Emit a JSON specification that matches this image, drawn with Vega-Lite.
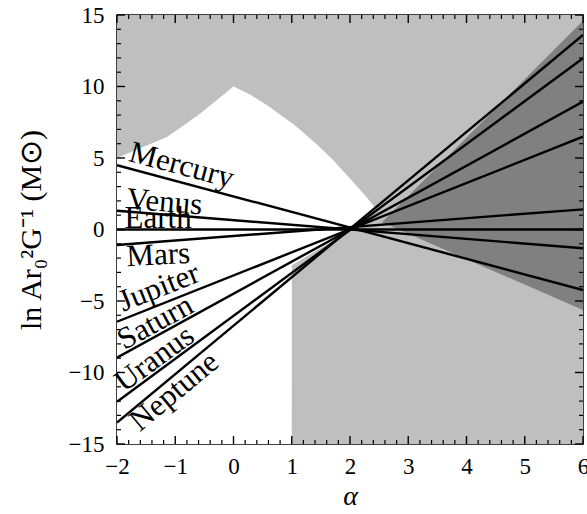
{
  "$schema": "https://vega.github.io/schema/vega-lite/v6.json",
  "width": 466,
  "height": 429,
  "autosize": "none",
  "padding": {"left": 117, "top": 15, "right": 4, "bottom": 70},
  "background": "white",
  "config": {
    "view": {"stroke": "black", "strokeWidth": 1.5},
    "axis": {"grid": false, "domain": false, "ticks": false, "labelColor": "black", "labelFont": "Liberation Serif", "labelFontSize": 23, "titleColor": "black", "titleFont": "Liberation Serif", "titleFontWeight": "normal", "labelFlush": false, "labelOverlap": false}
  },
  "datasets": {
    "bg": [{"x": -2, "lo": -15, "hi": 15}, {"x": 6, "lo": -15, "hi": 15}],
    "white": [
      {"x": -2, "lo": -15, "hi": 5},
      {"x": -1.5, "lo": -15, "hi": 5.85},
      {"x": -1.14, "lo": -15, "hi": 6.47},
      {"x": -0.8, "lo": -15, "hi": 7.45},
      {"x": -0.57, "lo": -15, "hi": 8.12},
      {"x": -0.3, "lo": -15, "hi": 9.0},
      {"x": 0, "lo": -15, "hi": 10},
      {"x": 0.3, "lo": -15, "hi": 9.4},
      {"x": 0.57, "lo": -15, "hi": 8.7},
      {"x": 1, "lo": -15, "hi": 7.45},
      {"x": 1.002, "lo": -2.5, "hi": 7.44},
      {"x": 1.14, "lo": -2.16, "hi": 7.0},
      {"x": 1.45, "lo": -1.4, "hi": 5.88},
      {"x": 1.71, "lo": -0.78, "hi": 4.86},
      {"x": 2.03, "lo": 0, "hi": 3.42},
      {"x": 2.28, "lo": 0.85, "hi": 2.29},
      {"x": 2.45, "lo": 1.42, "hi": 1.42}
    ],
    "dark": [
      {"x": 2.55, "lo": 0.5, "hi": 0.5},
      {"x": 6, "lo": -5.63, "hi": 14.6}
    ],
    "lines": [
      {"planet": "Mercury", "x": -2, "y": 4.5}, {"planet": "Mercury", "x": 6, "y": -4.23},
      {"planet": "Venus", "x": -2, "y": 1.31}, {"planet": "Venus", "x": 6, "y": -1.31},
      {"planet": "Earth", "x": -2, "y": 0}, {"planet": "Earth", "x": 6, "y": 0},
      {"planet": "Mars", "x": -2, "y": -1.08}, {"planet": "Mars", "x": 6, "y": 1.41},
      {"planet": "Jupiter", "x": -2, "y": -6.45}, {"planet": "Jupiter", "x": 6, "y": 6.49},
      {"planet": "Saturn", "x": -2, "y": -8.96}, {"planet": "Saturn", "x": 6, "y": 8.94},
      {"planet": "Uranus", "x": -2, "y": -12.04}, {"planet": "Uranus", "x": 6, "y": 11.97},
      {"planet": "Neptune", "x": -2, "y": -13.5}, {"planet": "Neptune", "x": 6, "y": 13.6}
    ],
    "labels": [
      {"planet": "Mercury", "x": -1.85, "y": 4.34},
      {"planet": "Venus", "x": -1.85, "y": 1.26},
      {"planet": "Earth", "x": -1.87, "y": 0},
      {"planet": "Mars", "x": -1.85, "y": -1.03},
      {"planet": "Jupiter", "x": -1.85, "y": -6.21},
      {"planet": "Saturn", "x": -1.85, "y": -8.62},
      {"planet": "Uranus", "x": -1.85, "y": -11.59},
      {"planet": "Neptune", "x": -1.85, "y": -12.99}
    ],
    "xmajor": [{"v": -2}, {"v": -1}, {"v": 0}, {"v": 1}, {"v": 2}, {"v": 3}, {"v": 4}, {"v": 5}, {"v": 6}],
    "xminor": [{"v": -1.8}, {"v": -1.6}, {"v": -1.4}, {"v": -1.2}, {"v": -0.8}, {"v": -0.6}, {"v": -0.4}, {"v": -0.2}, {"v": 0.2}, {"v": 0.4}, {"v": 0.6}, {"v": 0.8}, {"v": 1.2}, {"v": 1.4}, {"v": 1.6}, {"v": 1.8}, {"v": 2.2}, {"v": 2.4}, {"v": 2.6}, {"v": 2.8}, {"v": 3.2}, {"v": 3.4}, {"v": 3.6}, {"v": 3.8}, {"v": 4.2}, {"v": 4.4}, {"v": 4.6}, {"v": 4.8}, {"v": 5.2}, {"v": 5.4}, {"v": 5.6}, {"v": 5.8}],
    "ymajor": [{"v": -15}, {"v": -10}, {"v": -5}, {"v": 0}, {"v": 5}, {"v": 10}, {"v": 15}],
    "yminor": [{"v": -14}, {"v": -13}, {"v": -12}, {"v": -11}, {"v": -9}, {"v": -8}, {"v": -7}, {"v": -6}, {"v": -4}, {"v": -3}, {"v": -2}, {"v": -1}, {"v": 1}, {"v": 2}, {"v": 3}, {"v": 4}, {"v": 6}, {"v": 7}, {"v": 8}, {"v": 9}, {"v": 11}, {"v": 12}, {"v": 13}, {"v": 14}]
  },
  "encoding": {
    "x": {"type": "quantitative", "scale": {"domain": [-2, 6], "nice": false, "zero": false}},
    "y": {"type": "quantitative", "scale": {"domain": [-15, 15], "nice": false, "zero": false}}
  },
  "layer": [
    {
      "data": {"name": "bg"},
      "mark": {"type": "area", "color": "#bfbfbf", "clip": true},
      "encoding": {
        "x": {"field": "x", "type": "quantitative",
          "axis": {"orient": "bottom", "values": [-2, -1, 0, 1, 2, 3, 4, 5, 6], "format": "d", "labelPadding": 11, "title": "α", "titleFontStyle": "italic", "titleFontSize": 28, "titlePadding": 4}},
        "y": {"field": "lo", "type": "quantitative",
          "axis": {"orient": "left", "values": [-15, -10, -5, 0, 5, 10, 15], "format": "d", "labelPadding": 13, "title": "ln Ar₀²G⁻¹ (M⊙)", "titleFontSize": 30, "titlePadding": 22}},
        "y2": {"field": "hi"}
      }
    },
    {
      "data": {"name": "white"},
      "mark": {"type": "area", "color": "white", "clip": true},
      "encoding": {
        "x": {"field": "x", "type": "quantitative"},
        "y": {"field": "lo", "type": "quantitative"},
        "y2": {"field": "hi"}
      }
    },
    {
      "data": {"name": "dark"},
      "mark": {"type": "area", "color": "#808080", "clip": true},
      "encoding": {
        "x": {"field": "x", "type": "quantitative"},
        "y": {"field": "lo", "type": "quantitative"},
        "y2": {"field": "hi"}
      }
    },
    {
      "data": {"name": "labels"},
      "transform": [{"filter": "datum.planet == 'Mercury'"}],
      "mark": {"type": "text", "align": "left", "baseline": "alphabetic", "angle": 15, "dy": -7, "font": "Liberation Serif", "fontSize": 31, "color": "black"},
      "encoding": {"x": {"field": "x", "type": "quantitative"}, "y": {"field": "y", "type": "quantitative"}, "text": {"field": "planet"}}
    },
    {
      "data": {"name": "labels"},
      "transform": [{"filter": "datum.planet == 'Venus'"}],
      "mark": {"type": "text", "align": "left", "baseline": "alphabetic", "angle": 4.6, "dy": -3, "font": "Liberation Serif", "fontSize": 31, "color": "black"},
      "encoding": {"x": {"field": "x", "type": "quantitative"}, "y": {"field": "y", "type": "quantitative"}, "text": {"field": "planet"}}
    },
    {
      "data": {"name": "labels"},
      "transform": [{"filter": "datum.planet == 'Earth'"}],
      "mark": {"type": "text", "align": "left", "baseline": "alphabetic", "angle": 0, "dy": -2, "font": "Liberation Serif", "fontSize": 31, "color": "black"},
      "encoding": {"x": {"field": "x", "type": "quantitative"}, "y": {"field": "y", "type": "quantitative"}, "text": {"field": "planet"}}
    },
    {
      "data": {"name": "labels"},
      "transform": [{"filter": "datum.planet == 'Mars'"}],
      "mark": {"type": "text", "align": "left", "baseline": "top", "angle": -3, "dy": -2, "font": "Liberation Serif", "fontSize": 31, "color": "black"},
      "encoding": {"x": {"field": "x", "type": "quantitative"}, "y": {"field": "y", "type": "quantitative"}, "text": {"field": "planet"}}
    },
    {
      "data": {"name": "labels"},
      "transform": [{"filter": "datum.planet == 'Jupiter'"}],
      "mark": {"type": "text", "align": "left", "baseline": "alphabetic", "angle": -21.6, "dy": -7, "font": "Liberation Serif", "fontSize": 31, "color": "black"},
      "encoding": {"x": {"field": "x", "type": "quantitative"}, "y": {"field": "y", "type": "quantitative"}, "text": {"field": "planet"}}
    },
    {
      "data": {"name": "labels"},
      "transform": [{"filter": "datum.planet == 'Saturn'"}],
      "mark": {"type": "text", "align": "left", "baseline": "alphabetic", "angle": -28.7, "dy": -3, "font": "Liberation Serif", "fontSize": 31, "color": "black"},
      "encoding": {"x": {"field": "x", "type": "quantitative"}, "y": {"field": "y", "type": "quantitative"}, "text": {"field": "planet"}}
    },
    {
      "data": {"name": "labels"},
      "transform": [{"filter": "datum.planet == 'Uranus'"}],
      "mark": {"type": "text", "align": "left", "baseline": "alphabetic", "angle": -36.3, "dy": -3, "font": "Liberation Serif", "fontSize": 31, "color": "black"},
      "encoding": {"x": {"field": "x", "type": "quantitative"}, "y": {"field": "y", "type": "quantitative"}, "text": {"field": "planet"}}
    },
    {
      "data": {"name": "labels"},
      "transform": [{"filter": "datum.planet == 'Neptune'"}],
      "mark": {"type": "text", "align": "left", "baseline": "top", "angle": -39.7, "dy": -2, "font": "Liberation Serif", "fontSize": 31, "color": "black"},
      "encoding": {"x": {"field": "x", "type": "quantitative"}, "y": {"field": "y", "type": "quantitative"}, "text": {"field": "planet"}}
    },
    {
      "data": {"name": "lines"},
      "mark": {"type": "line", "color": "black", "strokeWidth": 2.4, "clip": true},
      "encoding": {
        "x": {"field": "x", "type": "quantitative"},
        "y": {"field": "y", "type": "quantitative"},
        "detail": {"field": "planet"}
      }
    },
    {
      "data": {"name": "xmajor"},
      "mark": {"type": "rule", "color": "black", "strokeWidth": 1.4},
      "encoding": {"x": {"field": "v", "type": "quantitative"}, "y": {"datum": -15}, "y2": {"datum": -14.44}}
    },
    {
      "data": {"name": "xmajor"},
      "mark": {"type": "rule", "color": "black", "strokeWidth": 1.4},
      "encoding": {"x": {"field": "v", "type": "quantitative"}, "y": {"datum": 15}, "y2": {"datum": 14.44}}
    },
    {
      "data": {"name": "xminor"},
      "mark": {"type": "rule", "color": "black", "strokeWidth": 1.2},
      "encoding": {"x": {"field": "v", "type": "quantitative"}, "y": {"datum": -15}, "y2": {"datum": -14.72}}
    },
    {
      "data": {"name": "xminor"},
      "mark": {"type": "rule", "color": "black", "strokeWidth": 1.2},
      "encoding": {"x": {"field": "v", "type": "quantitative"}, "y": {"datum": 15}, "y2": {"datum": 14.72}}
    },
    {
      "data": {"name": "ymajor"},
      "mark": {"type": "rule", "color": "black", "strokeWidth": 1.4},
      "encoding": {"y": {"field": "v", "type": "quantitative"}, "x": {"datum": -2}, "x2": {"datum": -1.863}}
    },
    {
      "data": {"name": "ymajor"},
      "mark": {"type": "rule", "color": "black", "strokeWidth": 1.4},
      "encoding": {"y": {"field": "v", "type": "quantitative"}, "x": {"datum": 6}, "x2": {"datum": 5.863}}
    },
    {
      "data": {"name": "yminor"},
      "mark": {"type": "rule", "color": "black", "strokeWidth": 1.2},
      "encoding": {"y": {"field": "v", "type": "quantitative"}, "x": {"datum": -2}, "x2": {"datum": -1.931}}
    },
    {
      "data": {"name": "yminor"},
      "mark": {"type": "rule", "color": "black", "strokeWidth": 1.2},
      "encoding": {"y": {"field": "v", "type": "quantitative"}, "x": {"datum": 6}, "x2": {"datum": 5.931}}
    }
  ]
}
